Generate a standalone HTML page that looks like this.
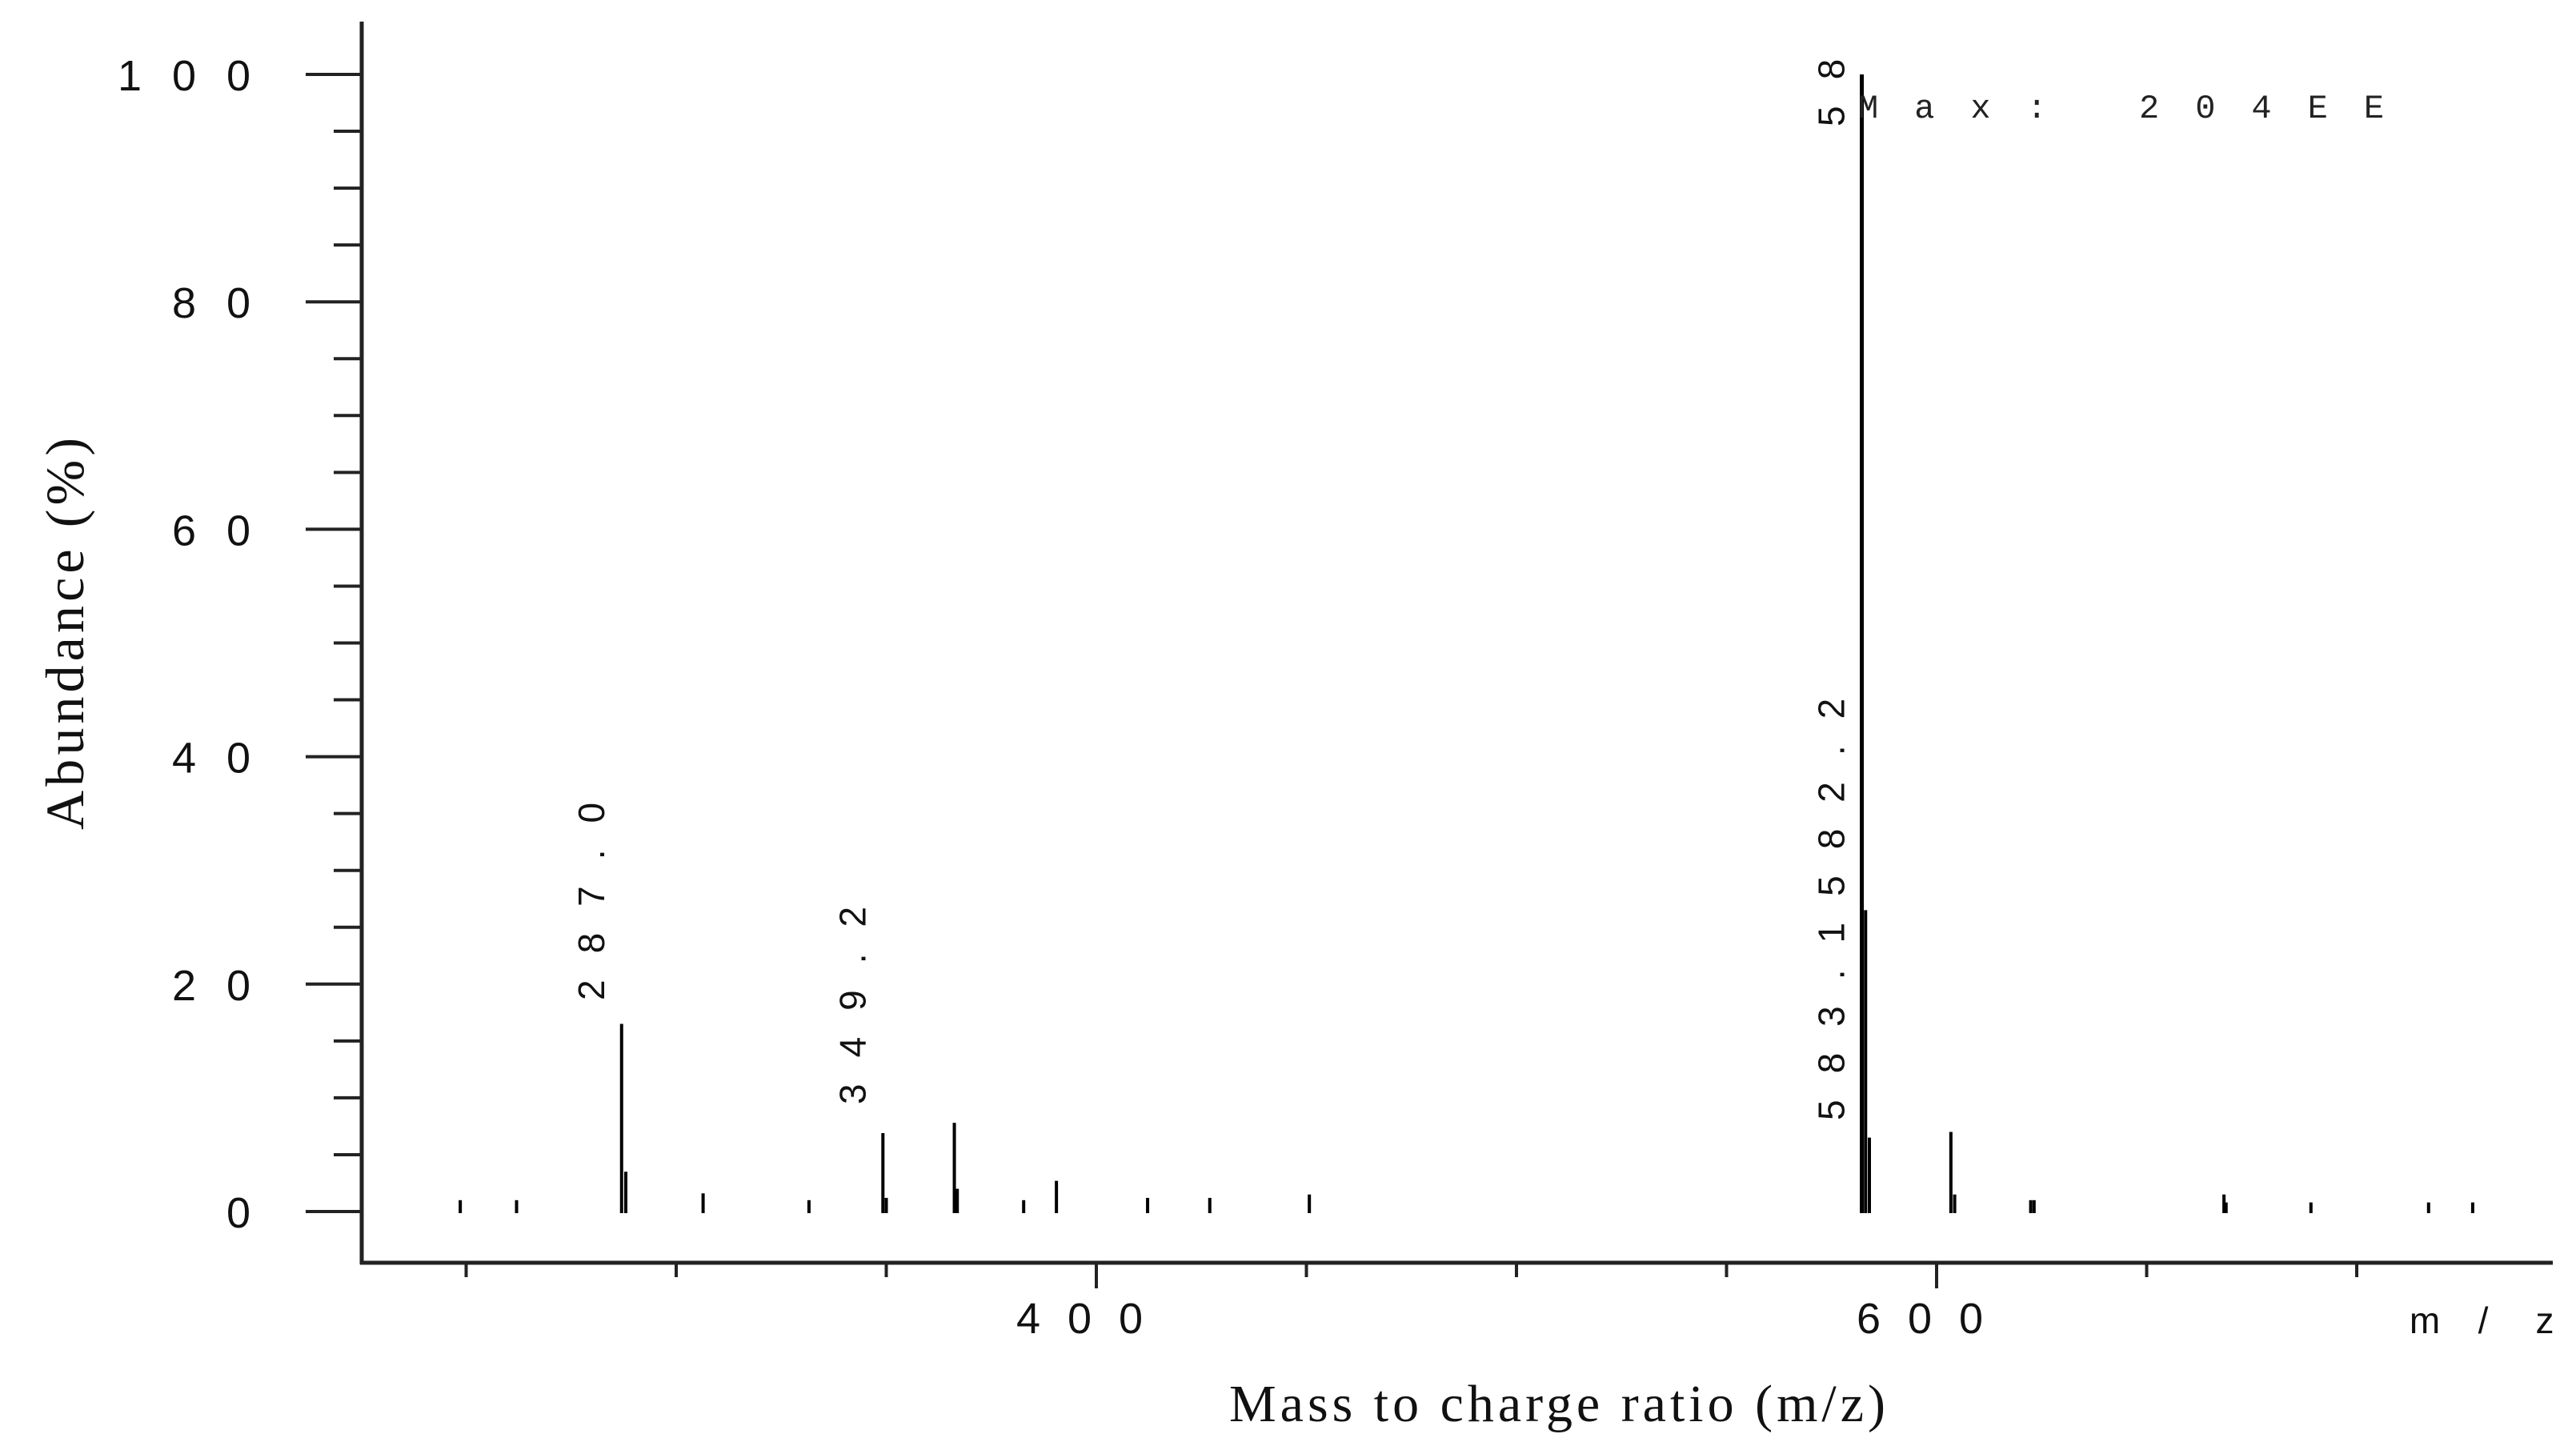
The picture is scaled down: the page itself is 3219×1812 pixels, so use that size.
<!DOCTYPE html>
<html><head><meta charset="utf-8"><style>
html,body{margin:0;padding:0;background:#fff;}
svg{display:block;}
</style></head><body>
<svg id="chart" width="3219" height="1812" viewBox="0 0 3219 1812" xmlns="http://www.w3.org/2000/svg">
<g id="axes"></g>
<g id="bars"></g>
<g id="labels"></g>
</svg>
<script>
const peakMz = [248.6, 262.0, 287.0, 288.0, 306.4, 331.6, 349.2, 350.0, 366.2, 366.9, 382.7, 390.5, 412.2, 427.0, 450.7, 582.2, 583.1, 584.0, 603.4, 604.3, 622.4, 623.2, 668.4, 668.9, 689.1, 717.1, 727.6];
const peakAbund = [1.0, 1.0, 16.5, 3.5, 1.6, 1.0, 6.9, 1.2, 7.8, 2.0, 1.0, 2.7, 1.2, 1.2, 1.5, 100, 26.5, 6.5, 7.0, 1.5, 1.0, 1.0, 1.5, 0.8, 0.8, 0.8, 0.8];
const yTicks = [0, 20, 40, 60, 80, 100];
const xTicks = [400, 600];
const peakLabels = ["287.0", "349.2", "583.1582.2", "58"];
const peakLabelMz = [287.0, 349.2, 582.2, 582.2];
const peakLabelTop = [1250, 1380, 1400, 158];

const NS = "http://www.w3.org/2000/svg";
function xS(mz){ return 1370 + (mz - 400) * 5.25; }
function yS(v){ return 1514 - v * 14.21; }
function mk(tag, attrs, parent){
  const e = document.createElementNS(NS, tag);
  for (const k in attrs) e.setAttribute(k, attrs[k]);
  parent.appendChild(e); return e;
}
const axes = document.getElementById('axes');
const bars = document.getElementById('bars');
const labels = document.getElementById('labels');

let yl = mk('line', {x1:452, y1:27, x2:452, y2:1580, stroke:'#222', 'stroke-width':5}, axes);


let xl = mk('line', {x1:450, y1:1578, x2:3190, y2:1578, stroke:'#222', 'stroke-width':5}, axes);



for (let v = 0; v <= 100; v += 5) {
  const major = v % 20 === 0;
  const t = mk('line', {x1: major ? 382 : 417, y1: yS(v), x2: 452, y2: yS(v), stroke:'#222', 'stroke-width':4}, axes);
  
  
}
yTicks.forEach(v => {
  const s = String(v);
  for (let i = 0; i < s.length; i++) {
    const tx = mk('text', {x: 298 - (s.length - 1 - i) * 68, y: yS(v) + 20, 'text-anchor':'middle', 'font-family':'Liberation Sans, sans-serif', 'font-size':54, fill:'#111'}, axes);
    tx.textContent = s[i];
    
    
  }
});
for (let m = 250; m <= 700; m += 50) {
  const major = xTicks.indexOf(m) >= 0;
  const t = mk('line', {x1: xS(m), y1: 1578, x2: xS(m), y2: major ? 1610 : 1596, stroke:'#222', 'stroke-width':4}, axes);
  
  
}
xTicks.forEach(m => {
  const s = String(m);
  for (let i = 0; i < s.length; i++) {
    const tx = mk('text', {x: xS(m) - 85 + i * 64, y: 1666, 'text-anchor':'middle', 'font-family':'Liberation Sans, sans-serif', 'font-size':54, fill:'#111'}, axes);
    tx.textContent = s[i];
    
    
  }
});
const mzChars = ['m', '/', 'z'];
const mzX = [3030, 3103, 3180];
mzChars.forEach((c, i) => {
  const t = mk('text', {x: mzX[i], y:1666, 'text-anchor':'middle', 'font-family':'Liberation Sans, sans-serif', 'font-size':46, fill:'#111'}, axes);
  t.textContent = c;
  
  
});

peakMz.forEach((m, i) => {
  const w = peakAbund[i] >= 50 ? 5 : 4;
  const b = mk('line', {x1: xS(m), y1: 1516, x2: xS(m), y2: yS(peakAbund[i]), stroke:'#000', 'stroke-width': w}, bars);
  
  
});

peakLabels.forEach((s, i) => {
  const x = xS(peakLabelMz[i]) - 22, y = peakLabelTop[i];
  const t = mk('text', {x: x, y: y, transform: `rotate(-90 ${x} ${y})`, 'font-family':'Liberation Sans, sans-serif', 'font-size':46, 'letter-spacing':'33', fill:'#111'}, labels);
  t.textContent = s;
  
  
});

const mx = mk('text', {x:2322, y:147, 'font-family':'Liberation Mono, monospace', 'font-size':42, 'letter-spacing':'45', fill:'#222'}, labels);
mx.textContent = 'Max: 204EE';



const yt = mk('text', {x:0, y:0, transform:'translate(104 792) rotate(-90)', 'text-anchor':'middle', 'font-family':'Liberation Serif, serif', 'font-size':68, textLength:490, fill:'#111'}, labels);
yt.textContent = 'Abundance (%)';



const xt = mk('text', {x:1946, y:1776, 'text-anchor':'middle', 'font-family':'Liberation Serif, serif', 'font-size':66, textLength:820, fill:'#111'}, labels);
xt.textContent = 'Mass to charge ratio (m/z)';


</script>
</body></html>
